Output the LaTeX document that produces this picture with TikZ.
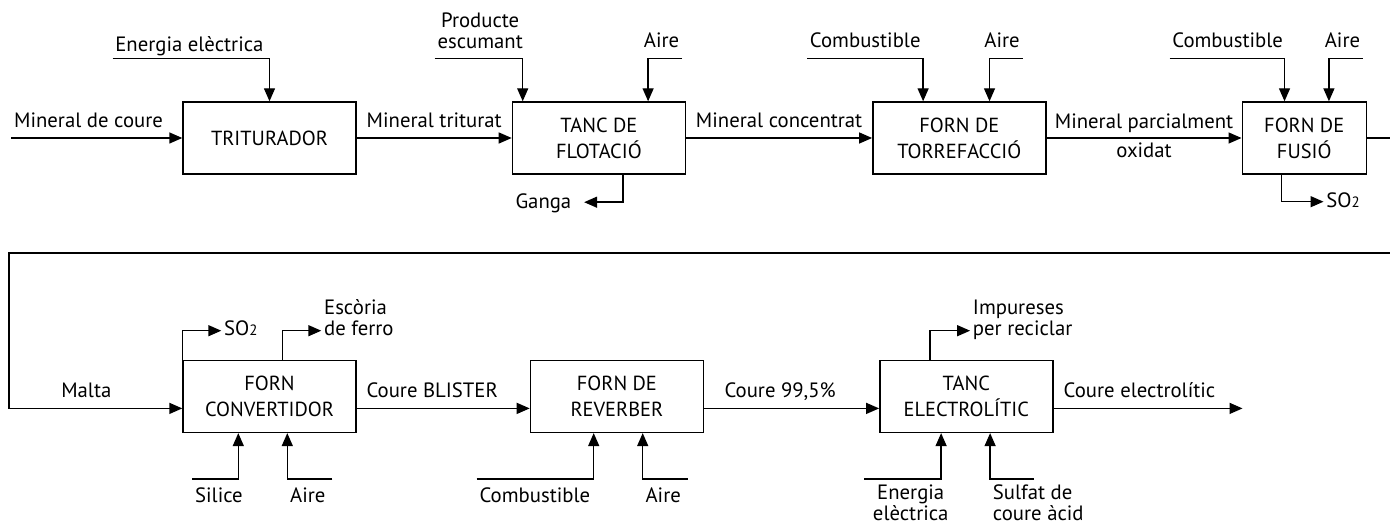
\documentclass[tikz,border=0pt]{standalone}
\usepackage{fontspec}
\setmainfont{PT Sans}
\usepackage{tikz}
\usetikzlibrary{arrows.meta, positioning}

\newcommand{\sodos}{SO{\fontsize{8.5}{8.5}\selectfont 2}}

\begin{document}
\begin{tikzpicture}[
  font=\fontsize{11.8}{12}\selectfont,
  box/.style={draw, line width=0.8pt, align=center,
              minimum width=34.6mm, minimum height=14.4mm,
              font=\fontsize{11.6}{14.8}\selectfont},
  lbl/.style={inner sep=0.5mm, align=left},
  flow/.style={line width=0.8pt},
  arr/.style={flow, -{Triangle[length=2.6mm, width=2.2mm]}}
]
\useasboundingbox (0,0) rectangle (278mm,-105.2mm);

\node[box] (tri) at (53.9mm,-27.6mm) {TRITURADOR};
\node[box, right=31mm of tri] (flot) {TANC DE\\FLOTACIÓ};
\node[box, right=37.2mm of flot] (torr) {FORN DE\\TORREFACCIÓ};
\node[box, minimum width=24.8mm, right=39mm of torr] (fus) {FORN DE\\FUSIÓ};
\node[box, below=37mm of tri] (conv) {FORN\\CONVERTIDOR};
\node[box, right=34.6mm of conv] (rev) {FORN DE\\REVERBER};
\node[box, right=35mm of rev] (ele) {TANC\\ELECTROLÍTIC};

\node[lbl, anchor=base west] (mc) at ([shift={(-34.2mm,2mm)}]tri.west) {Mineral de coure};
\node[lbl, anchor=base west] (eel) at ([shift={(-31.4mm,10mm)}]tri.north) {Energia elèctrica};
\node[lbl, anchor=base west, align=center] (prod) at ([shift={(-15.4mm,10.6mm)}]flot.north west) {Producte\\escumant};
\node[lbl, anchor=base east] (airf) at ([shift={(-0.8mm,10.8mm)}]flot.north east) {Aire};
\node[lbl, anchor=base east] (ganga) at ([shift={(-22.4mm,-6.8mm)}]flot.south east) {Ganga};
\node[lbl, anchor=base west] (combt) at ([shift={(-13mm,10.8mm)}]torr.north west) {Combustible};
\node[lbl, anchor=base east] (airt) at ([shift={(-4.8mm,10.8mm)}]torr.north east) {Aire};
\node[lbl, anchor=base west] (combf) at ([shift={(-14.4mm,10.8mm)}]fus.north west) {Combustible};
\node[lbl, anchor=base east] (airfu) at ([shift={(-0.8mm,10.8mm)}]fus.north east) {Aire};
\node[lbl, anchor=base west] (sofu) at ([shift={(16.4mm,-6.6mm)}]fus.south west) {\sodos};

\node[lbl, anchor=base] (malta) at ([shift={(-19.2mm,-0.2mm)}]conv.west) {Malta};
\node[lbl, anchor=base west] (soco) at ([shift={(7.8mm,4.8mm)}]conv.north west) {\sodos};
\node[lbl, anchor=base west] (esc) at ([shift={(27.8mm,4.8mm)}]conv.north west) {Escòria\\de ferro};
\node[lbl, anchor=base west] (sil) at ([shift={(2mm,-13.8mm)}]conv.south west) {Silice};
\node[lbl, anchor=base west] (airc) at ([shift={(21mm,-13.8mm)}]conv.south west) {Aire};
\node[lbl, anchor=base west] (combr) at ([shift={(-10.6mm,-13.8mm)}]rev.south west) {Combustible};
\node[lbl, anchor=base west] (airr) at ([shift={(22.6mm,-13.8mm)}]rev.south west) {Aire};
\node[lbl, anchor=base west] (imp) at ([shift={(18.2mm,4.8mm)}]ele.north west) {Impureses\\per reciclar};
\node[lbl, anchor=base west, align=center] (eelb) at ([shift={(-1.8mm,-17.4mm)}]ele.south west) {Energia\\elèctrica};
\node[lbl, anchor=base west] (sul) at ([shift={(22.2mm,-17.4mm)}]ele.south west) {Sulfat de\\coure àcid};

\coordinate (edgeR) at (278mm,-50.6mm);
\coordinate (cuout) at ([shift={(37.8mm,-2.4mm)}]ele.east);

\draw[arr] ([yshift=-2mm]mc.base west) -- (tri.west);
\draw[arr] (tri) -- (flot) node[lbl, midway, anchor=base, yshift=2mm] {Mineral triturat};
\draw[arr] (flot) -- (torr) node[lbl, midway, anchor=base, yshift=2mm] {Mineral concentrat};
\draw[arr] (torr) -- (fus) node[lbl, midway, anchor=base, yshift=-4mm, align=center] {Mineral parcialment\\[5pt]oxidat};
\draw[flow] (fus) -- (fus -| edgeR);
\draw[arr] (edgeR) -- ++(-276.2mm,0) |- ([yshift=-2.4mm]conv.west);

\draw[arr] ([yshift=-1.4mm]eel.base west) -| (tri.north);
\draw[arr] ([yshift=-2mm]prod.base west) -| ([xshift=2.2mm]flot.north west);
\draw[arr] ([yshift=-2.2mm]airf.base east) -| ([xshift=-7.6mm]flot.north east);
\draw[arr] ([yshift=-2.2mm]combt.base west) -| ([xshift=10.2mm]torr.north west);
\draw[arr] ([yshift=-2.2mm]airt.base east) -| ([xshift=-11.4mm]torr.north east);
\draw[arr] ([yshift=-2.2mm]combf.base west) -| ([xshift=8.6mm]fus.north west);
\draw[arr] ([yshift=-2.2mm]airfu.base east) -| ([xshift=-7.6mm]fus.north east);
\draw[arr] ([xshift=-12.6mm]flot.south east) |- ([shift={(2mm,1.3mm)}]ganga.base east);
\draw[arr] ([xshift=8mm]fus.south west) |- ([yshift=1.2mm]sofu.base west);

\draw[arr] ([yshift=-2.4mm]conv.east) -- ([yshift=-2.4mm]rev.west) node[lbl, midway, anchor=base, xshift=-2.2mm, yshift=2.2mm] {Coure BLISTER};
\draw[arr] ([yshift=-2.4mm]rev.east) -- ([yshift=-2.4mm]ele.west) node[lbl, midway, anchor=base, xshift=-2.3mm, yshift=2.2mm] {Coure 99,5\%};
\draw[arr] ([yshift=-2.4mm]ele.east) -- (cuout) node[lbl, pos=0, anchor=base west, xshift=1.4mm, yshift=2.2mm] {Coure electrolític};

\draw[arr] (conv.north west) |- ([yshift=1mm]soco.base west);
\draw[arr] ([xshift=20mm]conv.north west) |- ([yshift=1mm]esc.base west);
\draw[arr] ([xshift=10.2mm]ele.north west) |- ([yshift=1mm]imp.base west);
\draw[arr] ([yshift=4.6mm]sil.base west) -| ([xshift=11.2mm]conv.south west);
\draw[arr] ([shift={(9mm,4.6mm)}]airc.base west) -| ([xshift=21mm]conv.south west);
\draw[arr] ([yshift=4.6mm]combr.base west) -| ([xshift=12.8mm]rev.south west);
\draw[arr] ([shift={(9mm,4.6mm)}]airr.base west) -| ([xshift=22.6mm]rev.south west);
\draw[arr] ([shift={(-1.2mm,8.2mm)}]eelb.base west) -| ([xshift=12.4mm]ele.south west);
\draw[arr] ([shift={(8.8mm,8.2mm)}]sul.base west) -| ([xshift=22.2mm]ele.south west);
\end{tikzpicture}
\end{document}
